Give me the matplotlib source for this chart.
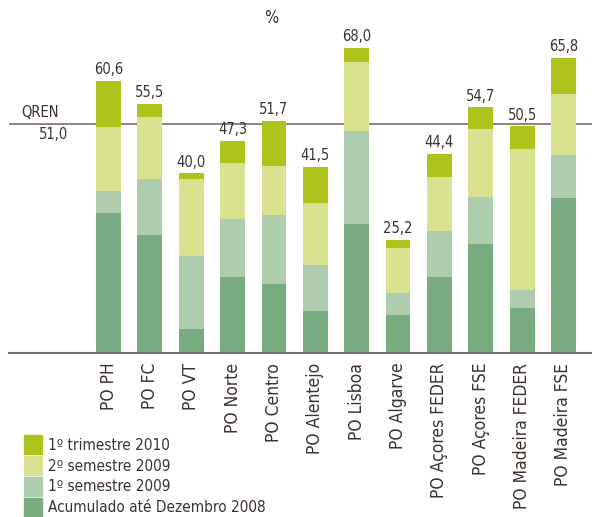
import matplotlib.pyplot as plt
from matplotlib.patches import Patch

programas = ['PO PH', 'PO FC', 'PO VT', 'PO Norte', 'PO Centro', 'PO Alentejo',
             'PO Lisboa', 'PO Algarve', 'PO Açores FEDER', 'PO Açores FSE',
             'PO Madeira FEDER', 'PO Madeira FSE']
acumulado_2008 = [31.2, 26.3, 5.3, 16.9, 15.4, 9.4, 28.7, 8.5, 16.9, 24.3, 10.0, 34.5]
sem1_2009 = [4.9, 12.5, 16.4, 12.9, 15.3, 10.2, 20.7, 4.9, 10.3, 10.4, 4.0, 9.6]
sem2_2009 = [14.2, 13.8, 17.1, 12.6, 10.9, 13.8, 15.4, 10.0, 12.0, 15.2, 31.4, 13.6]
trim1_2010 = [10.3, 2.9, 1.2, 4.9, 10.1, 8.1, 3.2, 1.8, 5.2, 4.8, 5.1, 8.1]
totais = ['60,6', '55,5', '40,0', '47,3', '51,7', '41,5', '68,0', '25,2',
          '44,4', '54,7', '50,5', '65,8']
qren = 51.0
qren_label = '51,0'

series = [
    ('Acumulado até Dezembro 2008', acumulado_2008, '#79ab80'),
    ('1º semestre 2009', sem1_2009, '#adcdae'),
    ('2º semestre 2009', sem2_2009, '#d9e290'),
    ('1º trimestre 2010', trim1_2010, '#aec41c'),
]

plt.rcParams['font.family'] = ['DejaVu Sans']
plt.rcParams['font.stretch'] = 'condensed'
txt = '#3b322c'
linecol = '#7a6e66'

fig = plt.figure(figsize=(5.92, 5.17), dpi=100)
ax = fig.add_axes([9 / 592, 164 / 517, 583 / 592, 0.6513])

x = list(range(len(programas)))
bottom = [0.0] * len(programas)
for name, vals, col in series:
    ax.bar(x, vals, bottom=bottom, width=0.6, color=col, linewidth=0, zorder=2)
    bottom = [b + v for b, v in zip(bottom, vals)]

for xi, top, lab in zip(x, bottom, totais):
    ax.text(xi, top + 0.8, lab, ha='center', va='bottom', fontsize=10.5, color=txt)

ax.axhline(qren, color=linecol, lw=1.2, zorder=1)
ax.text(-1.2, qren + 0.8, 'QREN', ha='right', va='bottom', fontsize=10.5, color=txt)
ax.text(-0.97, qren - 0.6, qren_label, ha='right', va='top', fontsize=10.5, color=txt)

ax.set_xlim(-2.406, 11.69)
ax.set_ylim(0, 75)
for s in ['top', 'left', 'right']:
    ax.spines[s].set_visible(False)
ax.spines['bottom'].set_color(linecol)
ax.spines['bottom'].set_linewidth(1.5)
ax.set_yticks([])
ax.set_xticks(x)
ax.set_xticklabels(programas, rotation=90, fontsize=12.5, color=txt, va='top')
ax.tick_params(axis='x', length=0, pad=7)

fig.text(271 / 592, 1 - 18 / 517, '%', ha='center', va='center', fontsize=12, color=txt)

handles = [Patch(color=col, label=name) for name, vals, col in series[::-1]]
fig.legend(handles=handles, loc='lower left', bbox_to_anchor=(24 / 592, 0.0),
           frameon=False, fontsize=11, handlelength=1.18, handleheight=1.55,
           labelspacing=0.12, handletextpad=0.4, borderpad=0, borderaxespad=0,
           labelcolor=txt)

fig.savefig('out.png', dpi=100)
